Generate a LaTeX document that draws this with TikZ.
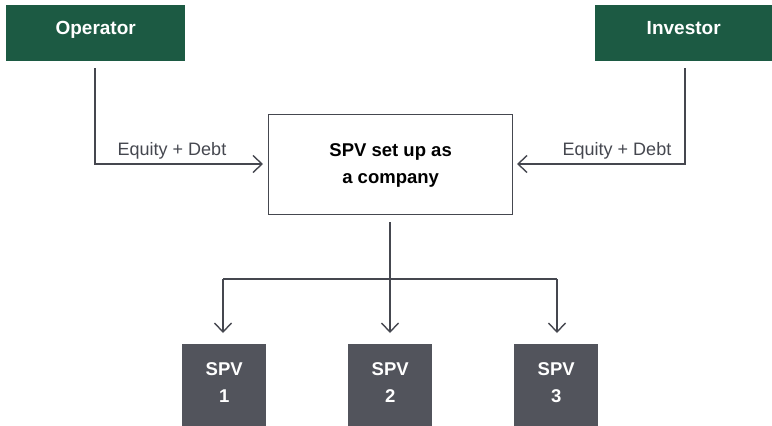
\documentclass[tikz,border=0pt]{standalone}
\usepackage{fontspec}
\setmainfont{Liberation Sans}
\usetikzlibrary{arrows.meta}
\definecolor{darkgreen}{HTML}{1C5A43}
\definecolor{spvgray}{HTML}{52545C}
\definecolor{linegray}{HTML}{45474F}
\tikzset{
  topbox/.style={fill=darkgreen, text=white, font=\fontsize{19}{22}\selectfont\bfseries, inner sep=0pt, anchor=north west},
  spvbox/.style={fill=spvgray, text=white, font=\fontsize{18.5}{27}\selectfont\bfseries, align=center, inner sep=0pt, minimum width=84pt, minimum height=82pt, anchor=north west},
  midbox/.style={draw=linegray, line width=1.3pt, font=\fontsize{18.5}{27}\selectfont\bfseries, align=center, inner sep=0pt, minimum width=244pt, minimum height=100pt, anchor=north west},
  conn/.style={draw=linegray, line width=1.4pt, -{Straight Barb[length=9pt,width=17pt,line width=1.4pt]}},
  lbl/.style={font=\fontsize{18}{20}\selectfont, text=linegray, inner sep=0pt}
}
\begin{document}
\begin{tikzpicture}[x=1pt,y=-1pt]
\useasboundingbox (0,0) rectangle (772,426);
\node[topbox, minimum width=179pt, minimum height=56pt] (op) at (6,5) {\raisebox{11pt}{Operator}};
\node[topbox, minimum width=177pt, minimum height=56pt] (inv) at (595,5) {\raisebox{11pt}{Investor}};
\node[midbox] (spv) at (268,114) {\raisebox{6pt}{\begin{tabular}{@{}c@{}}SPV set up as\\[0pt] a company\end{tabular}}};
\node[spvbox] (s1) at (182,344) {\raisebox{25pt}{\begin{tabular}{@{}c@{}}SPV\\[0pt]1\end{tabular}}};
\node[spvbox] (s2) at (348,344) {\raisebox{25pt}{\begin{tabular}{@{}c@{}}SPV\\[0pt]2\end{tabular}}};
\node[spvbox] (s3) at (514,344) {\raisebox{25pt}{\begin{tabular}{@{}c@{}}SPV\\[0pt]3\end{tabular}}};
% coordinates
\coordinate (opstart) at (95,68);
\coordinate (opcorner) at (95,164);
\coordinate (opend) at (263,164);
\coordinate (invstart) at (685,68);
\coordinate (invcorner) at (685,164);
\coordinate (invend) at (517,164);
\coordinate (cstart) at (390,222);
\coordinate (hl) at (223,279);
\coordinate (hr) at (557,279);
\coordinate (e1) at (223,333);
\coordinate (e2) at (390,333);
\coordinate (e3) at (557,333);
\draw[conn] (opstart) -- (opcorner) -- (opend);
\draw[conn] (invstart) -- (invcorner) -- (invend);
\node[lbl, anchor=base] (l1) at (172,155) {Equity + Debt};
\node[lbl, anchor=base] (l2) at (617,155) {Equity + Debt};
\draw[conn] (cstart) -- (e2);
\draw[conn] (hl) -- (e1);
\draw[conn] (hr) -- (e3);
\draw[draw=linegray, line width=1.4pt] (hl) -- (hr);
\end{tikzpicture}
\end{document}
